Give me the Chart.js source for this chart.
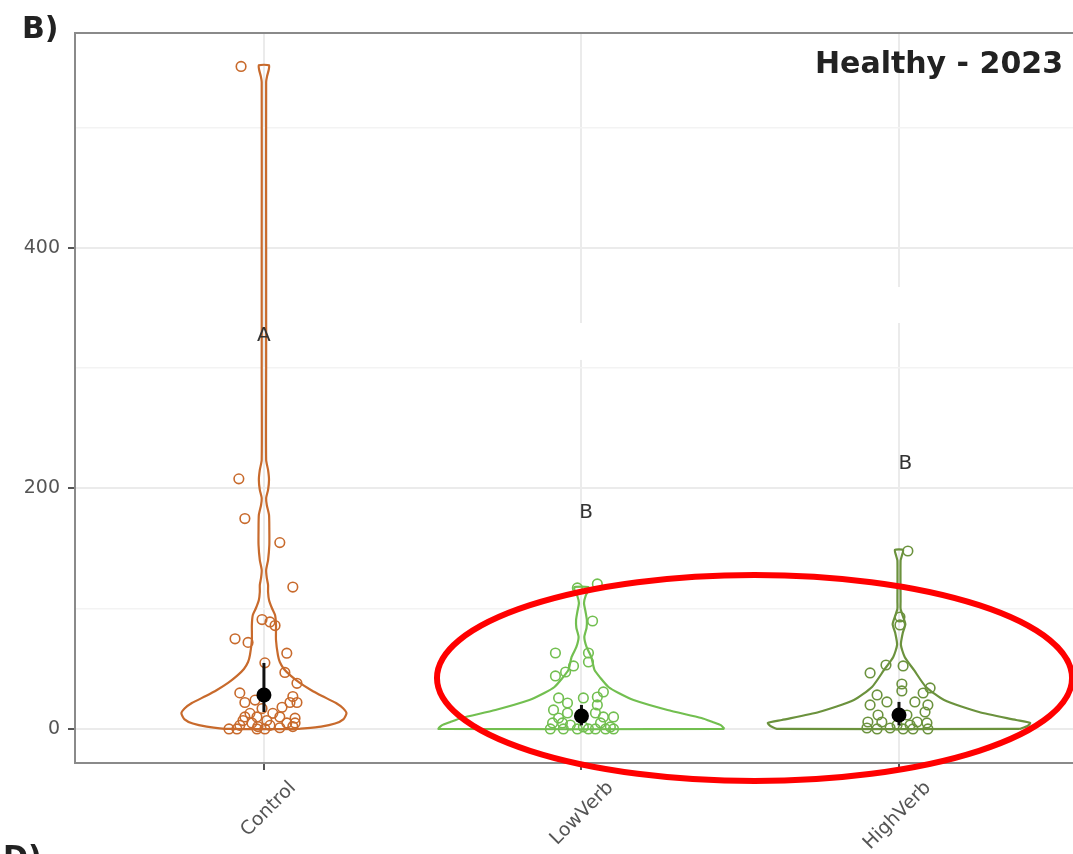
<!DOCTYPE html>
<html>
<head>
<meta charset="utf-8">
<script src="https://cdn.jsdelivr.net/npm/chart.js@4.4.1/dist/chart.umd.min.js"></script>
<style>
  html, body { margin: 0; padding: 0; background: #fff; overflow: hidden; }
  #wrap { width: 1073px; height: 854px; }
</style>
</head>
<body>
<div id="wrap"><canvas id="violinChart" width="1073" height="854"></canvas></div>
<script>
// categories and axis ticks
const categories = ["Control", "LowVerb", "HighVerb"];
const yTicks = [0, 100, 200, 300, 400, 500];

// violin outlines: value levels and half widths (in category units)
const controlLevels = [0, 2, 4.5, 8, 13, 17, 21.6, 27.4, 32.4, 38.3, 44.1, 49.9, 55.7, 61.5, 74, 86.5, 94.8, 100.6, 107.3, 113.9, 119.8, 125.6, 132.2, 140.5, 153, 165.5, 178, 186.3, 192.1, 198.8, 207.1, 215.4, 223.7, 300, 400, 538, 543, 548, 552];
const controlWidths = [0.110, 0.180, 0.224, 0.250, 0.260, 0.250, 0.227, 0.183, 0.148, 0.113, 0.085, 0.063, 0.050, 0.044, 0.038, 0.038, 0.035, 0.025, 0.016, 0.013, 0.013, 0.009, 0.007, 0.013, 0.017, 0.017, 0.016, 0.009, 0.007, 0.013, 0.016, 0.013, 0.007, 0.007, 0.007, 0.007, 0.010, 0.015, 0.016];

const lowLevels = [0, 3, 5.8, 9.1, 15.8, 24.1, 29.9, 34.9, 42.4, 49.1, 59.9, 68.2, 76.5, 84, 90.6, 97.3, 104.8, 110.6, 115.6, 118.1];
const lowWidths = [0.450, 0.440, 0.413, 0.378, 0.271, 0.164, 0.117, 0.085, 0.060, 0.041, 0.031, 0.016, 0.009, 0.016, 0.017, 0.013, 0.008, 0.013, 0.022, 0.022];

const highLevels = [0, 2.5, 5, 7.5, 14.1, 24.1, 34.9, 49.1, 59.9, 70, 80, 87, 94, 100, 106, 140, 144, 148.9];
const highWidths = [0.380, 0.405, 0.413, 0.369, 0.252, 0.142, 0.085, 0.047, 0.018, 0.006, 0.012, 0.020, 0.012, 0.005, 0.005, 0.005, 0.009, 0.013];

// jittered observations
const controlPtX = [0.928, 0.921, 0.940, 1.050, 1.091, 0.994, 1.019, 1.035, 0.909, 0.950, 1.072, 1.003, 1.066, 1.104, 0.924, 1.091, 0.940, 1.082, 1.104, 1.057, 0.956, 1.028, 0.978, 1.050, 0.940, 1.098, 0.934, 1.009, 0.924, 0.962, 1.019, 1.072, 1.098, 0.981, 0.915, 0.978, 1.003, 1.050, 1.091, 0.972, 0.994, 0.890];
const controlPtY = [551, 208, 175, 155, 118, 91, 89, 86, 75, 72, 63, 55, 47, 38, 30, 27, 22, 22, 22, 18, 13, 13, 10, 10, 10, 9, 7, 7, 3, 5, 3, 5, 5, 2, 0, 0, 0, 1, 2, 24, 17, 0];

const lowPtX = [2.050, 1.987, 2.035, 1.918, 2.022, 2.022, 1.975, 1.950, 1.918, 2.069, 2.050, 1.928, 2.006, 1.956, 2.050, 1.912, 1.956, 2.044, 2.101, 1.928, 2.069, 1.909, 1.940, 1.965, 2.060, 2.091, 1.902, 1.943, 1.987, 2.022, 2.044, 2.076, 2.101, 2.006];
const lowPtY = [120.6, 117.3, 89.8, 63.2, 63.2, 55.7, 52.4, 47.4, 44.1, 30.8, 26.6, 25.8, 25.8, 21.6, 20.0, 15.8, 13.3, 13.3, 10.0, 9.1, 10.0, 5.0, 5.0, 3.3, 5.0, 1.7, 0, 0, 0, 0, 0, 0, 0, 1.7];

const highPtX = [3.028, 3.003, 3.003, 2.909, 2.959, 3.013, 3.009, 3.009, 3.098, 3.076, 2.931, 2.962, 2.909, 3.050, 3.091, 3.082, 2.934, 3.025, 2.902, 2.946, 3.057, 3.088, 2.899, 2.931, 2.972, 3.013, 3.044, 3.091, 2.994, 3.035];
const highPtY = [148, 93.1, 86.5, 46.6, 53.2, 52.4, 37.4, 31.6, 34.1, 29.9, 28.3, 22.5, 20, 22.5, 20, 14.1, 11.6, 11.6, 5.8, 5.8, 5.8, 5, 0.8, 0, 0.8, 0, 0, 0, 3.3, 3.3];

// group means with error bars
const meanVals = [28.3, 10.8, 11.6];
const errLow = [14.1, 3, 3];
const errHigh = [54.9, 20, 22.5];

// significance letters
const letters = ["A", "B", "B"];
const letterX = [1, 2.015, 3.02];
const letterY = [326.8, 179.6, 220.4];

const groupColors = ["#c86a2c", "#72bf50", "#6b923d"];

// red highlight ellipse (data units)
const ellipse = { x: 2.545, y: 42.4, rx: 1.0, ry: 85.7 };
// small white breaks on the vertical grid lines
const gridGaps = [{ x: 2, from: 306.9, to: 337.6 }, { x: 3, from: 337.6, to: 367.6 }];

function violinOutline(center, levels, widths) {
  const right = levels.map((v, i) => ({ x: center + widths[i], y: v }));
  const left = levels.map((v, i) => ({ x: center - widths[i], y: v })).reverse();
  return [...right, ...left, right[0]];
}

const violins = [
  [controlLevels, controlWidths],
  [lowLevels, lowWidths],
  [highLevels, highWidths]
];
const jitter = [
  [controlPtX, controlPtY],
  [lowPtX, lowPtY],
  [highPtX, highPtY]
];

const datasets = [];
violins.forEach(([lv, w], i) => {
  datasets.push({
    data: violinOutline(i + 1, lv, w),
    showLine: true, borderColor: groupColors[i], borderWidth: 2.2,
    pointRadius: 0, tension: 0.2, fill: false, order: 4
  });
});
jitter.forEach(([xs, ys], i) => {
  datasets.push({
    data: xs.map((x, k) => ({ x: x, y: ys[k] })),
    pointRadius: 4.8, pointBorderWidth: 1.6, pointBorderColor: groupColors[i],
    pointBackgroundColor: "rgba(0,0,0,0)", order: 3
  });
});
meanVals.forEach((m, i) => {
  datasets.push({
    data: [{ x: i + 1, y: errLow[i] }, { x: i + 1, y: errHigh[i] }],
    showLine: true, borderColor: "#111", borderWidth: 3, pointRadius: 0, order: 2
  });
});
datasets.push({
  data: meanVals.map((m, i) => ({ x: i + 1, y: m })),
  pointRadius: 7.5, pointBackgroundColor: "#000", pointBorderWidth: 0, order: 1
});

const isMajor = c => c.tick && c.tick.value % 200 === 0;

const decor = {
  id: "decor",
  beforeDatasetsDraw(chart) {
    const { ctx, chartArea: a, scales: { x, y } } = chart;
    ctx.save();
    ctx.fillStyle = "#fff";
    gridGaps.forEach(g => {
      const px = x.getPixelForValue(g.x);
      const top = y.getPixelForValue(g.to);
      ctx.fillRect(px - 2, top, 4, y.getPixelForValue(g.from) - top);
    });
    ctx.strokeStyle = "#8a8a8a";
    ctx.lineWidth = 2;
    ctx.beginPath();
    ctx.moveTo(a.left - 1, a.top);
    ctx.lineTo(a.right, a.top);
    ctx.stroke();
    ctx.restore();
  },
  afterDatasetsDraw(chart) {
    const { ctx, scales: { x, y } } = chart;
    ctx.save();
    ctx.font = '20px "DejaVu Sans"';
    ctx.fillStyle = "#333";
    ctx.textAlign = "center";
    ctx.textBaseline = "middle";
    letters.forEach((t, i) => ctx.fillText(t, x.getPixelForValue(letterX[i]), y.getPixelForValue(letterY[i])));
    ctx.restore();
  },
  afterDraw(chart) {
    const { ctx, chartArea: a, scales: { x, y } } = chart;
    ctx.save();
    ctx.fillStyle = "#222";
    ctx.font = 'bold 30px "DejaVu Sans"';
    ctx.textAlign = "right";
    ctx.textBaseline = "alphabetic";
    ctx.fillText("Healthy - 2023", a.right - 10, a.top + 40);
    ctx.textAlign = "left";
    ctx.fillText("B)", 22, 38);
    ctx.fillText("D)", 3, 867);

    const cx = x.getPixelForValue(ellipse.x);
    const cy = y.getPixelForValue(ellipse.y);
    const rx = x.getPixelForValue(ellipse.x + ellipse.rx) - cx;
    const ry = cy - y.getPixelForValue(ellipse.y + ellipse.ry);
    ctx.strokeStyle = "#ff0000";
    ctx.lineWidth = 6;
    ctx.beginPath();
    ctx.ellipse(cx, cy, rx, ry, 0, 0, Math.PI * 2);
    ctx.stroke();
    ctx.restore();
  }
};

new Chart(document.getElementById("violinChart"), {
  type: "scatter",
  data: { datasets },
  options: {
    responsive: false,
    animation: false,
    events: [],
    layout: { autoPadding: false, padding: { top: 33, right: 0, bottom: 0, left: 0 } },
    plugins: { legend: { display: false }, tooltip: { enabled: false } },
    scales: {
      x: {
        type: "linear", min: 0.405, max: 3.548,
        afterBuildTicks: s => { s.ticks = categories.map((c, i) => ({ value: i + 1 })); },
        afterFit: s => { s.height = 91; s.paddingLeft = 0; s.paddingRight = 0; },
        ticks: {
          callback: (v, i) => categories[i],
          minRotation: 45, maxRotation: 45,
          labelOffset: 29, padding: 7,
          color: "#555",
          font: { family: "DejaVu Sans", size: 19 }
        },
        grid: { color: "#ebebeb", lineWidth: 2, tickColor: "#555", tickLength: 7, tickWidth: 2 },
        border: { color: "#8a8a8a", width: 2 }
      },
      y: {
        type: "linear", min: -28.3, max: 578.8,
        afterBuildTicks: s => { s.ticks = yTicks.map(v => ({ value: v })); },
        afterFit: s => { s.width = 75; s.paddingTop = 0; s.paddingBottom = 0; },
        ticks: {
          callback: v => (v % 200 === 0 ? v : ""),
          padding: 8,
          color: "#555",
          font: { family: "DejaVu Sans", size: 19 }
        },
        grid: {
          color: c => (isMajor(c) ? "#ebebeb" : "#f3f3f3"),
          lineWidth: c => (isMajor(c) ? 2 : 1.5),
          tickColor: c => (isMajor(c) ? "#555" : "rgba(0,0,0,0)"),
          tickLength: 7, tickWidth: 2
        },
        border: { color: "#8a8a8a", width: 2 }
      }
    }
  },
  plugins: [decor]
});
</script>
</body>
</html>
